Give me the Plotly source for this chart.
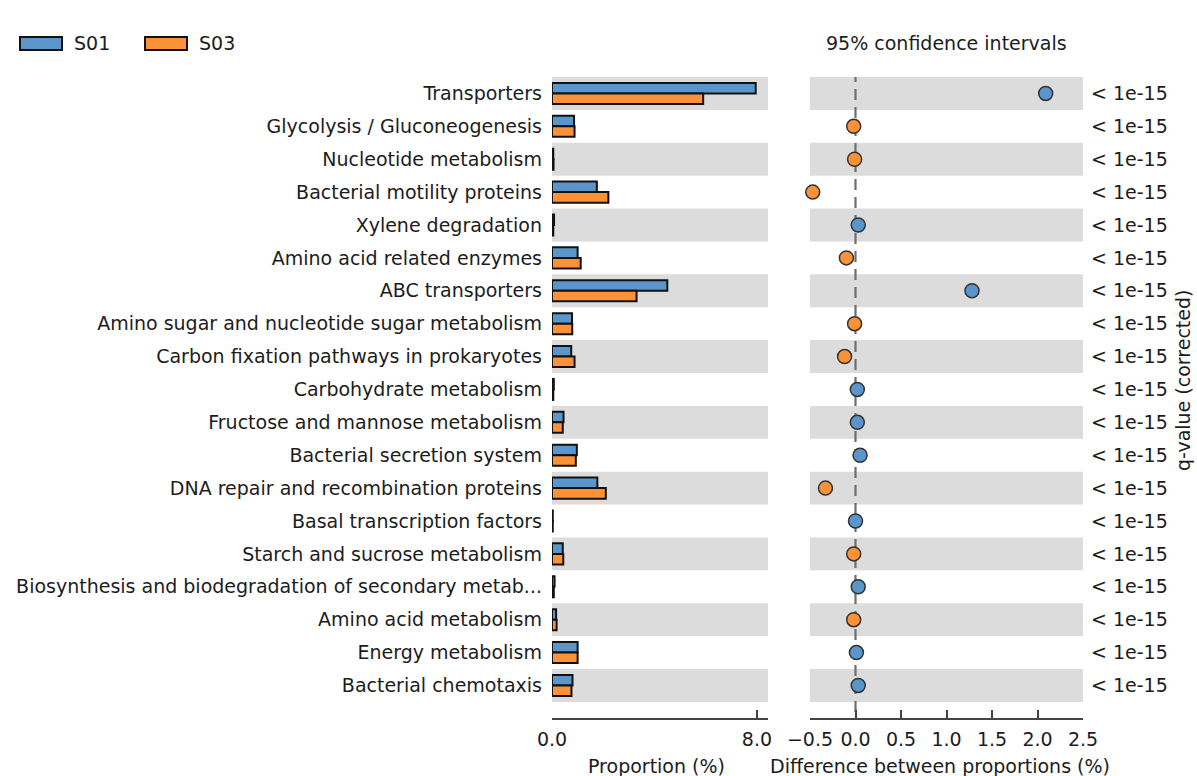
import plotly.graph_objects as go

# KEGG pathway proportions for two samples and their differences
categories = [
    "Transporters",
    "Glycolysis / Gluconeogenesis",
    "Nucleotide metabolism",
    "Bacterial motility proteins",
    "Xylene degradation",
    "Amino acid related enzymes",
    "ABC transporters",
    "Amino sugar and nucleotide sugar metabolism",
    "Carbon fixation pathways in prokaryotes",
    "Carbohydrate metabolism",
    "Fructose and mannose metabolism",
    "Bacterial secretion system",
    "DNA repair and recombination proteins",
    "Basal transcription factors",
    "Starch and sucrose metabolism",
    "Biosynthesis and biodegradation of secondary metab...",
    "Amino acid metabolism",
    "Energy metabolism",
    "Bacterial chemotaxis",
]
s01 = [7.95, 0.86, 0.05, 1.75, 0.08, 1.00, 4.50, 0.78, 0.75, 0.07, 0.45,
       0.97, 1.77, 0.03, 0.42, 0.10, 0.16, 1.00, 0.80]
s03 = [5.90, 0.88, 0.06, 2.20, 0.05, 1.12, 3.30, 0.79, 0.88, 0.05, 0.42,
       0.93, 2.10, 0.03, 0.44, 0.07, 0.18, 1.00, 0.76]
diff = [2.09, -0.02, -0.01, -0.47, 0.03, -0.10, 1.28, -0.01, -0.12, 0.02,
        0.02, 0.05, -0.33, 0.00, -0.02, 0.03, -0.02, 0.01, 0.03]
q_values = ["< 1e-15"] * len(categories)
prop_ticks = [0.0, 8.0]
prop_ticktext = ["0.0", "8.0"]
diff_ticks = [-0.5, 0.0, 0.5, 1.0, 1.5, 2.0, 2.5]
diff_ticktext = ["\u22120.5", "0.0", "0.5", "1.0", "1.5", "2.0", "2.5"]
sample_names = ["S01", "S03"]

BLUE = "#5a96cc"
ORANGE = "#fc9238"
BAND = "#dcdcdc"
TXT = "#1c1c1c"
FONT = "DejaVu Sans"
FS = 19
W, H = 1197, 776

n = len(categories)
y_range = [n - 0.5 + 0.49, -0.5]

fig = go.Figure()

fig.add_trace(go.Bar(
    y=categories, x=s01, orientation="h", name=sample_names[0],
    marker=dict(color=BLUE, line=dict(color="#111111", width=2)),
    xaxis="x", yaxis="y", showlegend=False,
))
fig.add_trace(go.Bar(
    y=categories, x=s03, orientation="h", name=sample_names[1],
    marker=dict(color=ORANGE, line=dict(color="#111111", width=2)),
    xaxis="x", yaxis="y", showlegend=False,
))

point_colors = [BLUE if d >= 0 else ORANGE for d in diff]
fig.add_trace(go.Scatter(
    y=categories, x=diff, mode="markers",
    marker=dict(size=14, color=point_colors, line=dict(color="#333333", width=1.5)),
    xaxis="x2", yaxis="y2", showlegend=False, cliponaxis=False,
))

shapes = []
# alternating background bands in both panels
for i, cat in enumerate(categories):
    if i % 2 == 0:
        for xr, yr in (("x domain", "y"), ("x2 domain", "y2")):
            shapes.append(dict(type="rect", xref=xr, yref=yr, x0=0, x1=1,
                               y0=i - 0.5, y1=i + 0.5, fillcolor=BAND,
                               line=dict(width=0), layer="below"))
# zero reference line in the difference panel
shapes.append(dict(type="line", xref="x2", yref="y2", x0=0, x1=0,
                   y0=-0.68, y1=y_range[0], layer="below",
                   line=dict(color="#6e6e6e", width=2.2, dash="11px,7px")))

# legend patches
legend_items = [(20, sample_names[0], BLUE), (145, sample_names[1], ORANGE)]
annotations = []
for x0, name, col in legend_items:
    shapes.append(dict(type="rect", xref="paper", yref="paper",
                       x0=x0 / W, x1=(x0 + 42) / W,
                       y0=1 - 50 / H, y1=1 - 37 / H,
                       fillcolor=col, line=dict(color="#111111", width=2)))
    annotations.append(dict(x=(x0 + 52) / W, y=1 - 43 / H, xref="paper", yref="paper",
                            text=name, showarrow=False, xanchor="left", yanchor="middle",
                            font=dict(size=FS, color=TXT)))

annotations += [
    dict(x=946 / W, y=1 - 43 / H, xref="paper", yref="paper",
         text="95% confidence intervals", showarrow=False,
         xanchor="center", yanchor="middle", font=dict(size=FS, color=TXT)),
    dict(x=656 / W, y=1 - 766 / H, xref="paper", yref="paper",
         text="Proportion (%)", showarrow=False,
         xanchor="center", yanchor="middle", font=dict(size=FS, color=TXT)),
    dict(x=940 / W, y=1 - 766 / H, xref="paper", yref="paper",
         text="Difference between proportions (%)", showarrow=False,
         xanchor="center", yanchor="middle", font=dict(size=FS, color=TXT)),
    dict(x=1183 / W, y=1 - 381 / H, xref="paper", yref="paper",
         text="q-value (corrected)", showarrow=False, textangle=-90,
         xanchor="center", yanchor="middle", font=dict(size=19, color=TXT)),
]

y_dom = [1 - 718 / H, 1 - 77 / H]
axis_common = dict(showgrid=False, zeroline=False, showline=True, linecolor="#444444",
                   linewidth=1.5, ticks="inside", ticklen=8, tickwidth=1.5,
                   tickcolor="#444444", tickfont=dict(size=FS, color=TXT),
                   ticklabelstandoff=3, fixedrange=True, automargin=False)

fig.update_layout(
    template="none",
    width=W, height=H,
    margin=dict(l=0, r=0, t=0, b=0, pad=0),
    paper_bgcolor="white", plot_bgcolor="white",
    font=dict(family=FONT, size=FS, color=TXT),
    barmode="group", bargap=0.36, bargroupgap=0.0,
    showlegend=False,
    xaxis=dict(domain=[552 / W, 768 / W], range=[0, 8.43], anchor="y",
               tickmode="array", tickvals=prop_ticks, ticktext=prop_ticktext,
               **axis_common),
    yaxis=dict(domain=y_dom, range=y_range, anchor="x", type="category",
               categoryorder="array", categoryarray=categories,
               showgrid=False, zeroline=False, showline=False, ticks="",
               tickfont=dict(size=FS, color=TXT), ticklabelstandoff=9,
               fixedrange=True, automargin=False),
    xaxis2=dict(domain=[810 / W, 1083 / W], range=[-0.5, 2.5], anchor="y2",
                tickmode="array", tickvals=diff_ticks, ticktext=diff_ticktext,
                **axis_common),
    yaxis2=dict(domain=y_dom, range=y_range, anchor="x2", type="category",
                categoryorder="array", categoryarray=categories, side="right",
                tickmode="array", tickvals=categories, ticktext=q_values,
                showgrid=False, zeroline=False, showline=False, ticks="",
                tickfont=dict(size=FS, color=TXT), ticklabelstandoff=7,
                fixedrange=True, automargin=False),
    shapes=shapes,
    annotations=annotations,
)

fig.write_html("out.html")
